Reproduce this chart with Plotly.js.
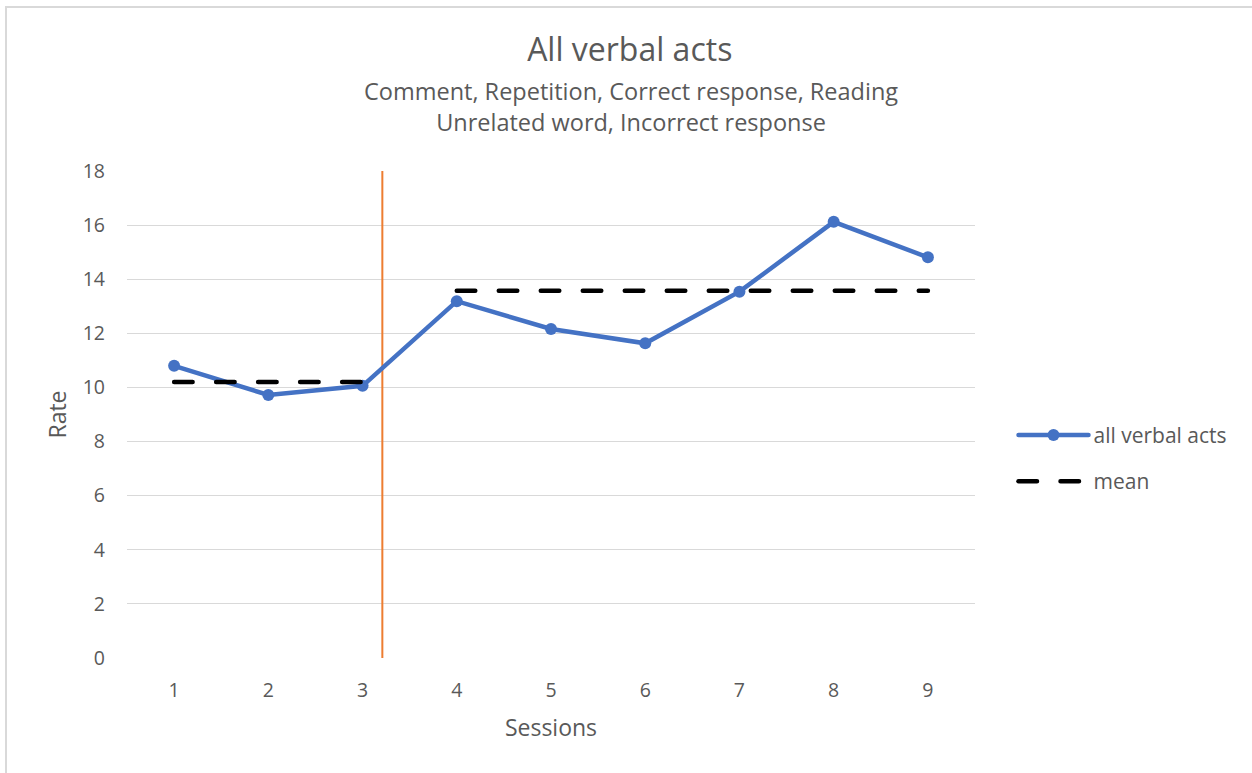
<!DOCTYPE html>
<html>
<head>
<meta charset="utf-8">
<script src="https://cdn.plot.ly/plotly-3.0.1.min.js"></script>
<style>
  html, body { margin: 0; padding: 0; background: #ffffff; }
  #frame {
    position: absolute; left: 0; top: 0; width: 1252px; height: 773px;
  }
  #edge {
    position: absolute; left: 5px; top: 6px; width: 1247px; height: 767px;
    border-left: 2px solid #d9d9d9; border-top: 2px solid #d9d9d9;
    pointer-events: none; z-index: 2;
  }
  #chart { position: absolute; left: 0; top: 0; width: 1252px; height: 773px; }
  .scatterlayer .js-line, .legend .js-line { stroke-linecap: round; }
</style>
</head>
<body>
<div id="frame">
  <div id="chart"></div>
  <div id="edge"></div>
</div>
<script>
// Sessions and observed rate of all verbal acts
const sessions = [1, 2, 3, 4, 5, 6, 7, 8, 9];
const verbalRate = [10.80, 9.72, 10.06, 13.19, 12.16, 11.63, 13.54, 16.12, 14.81];

// Phase means: baseline (sessions 1-3) and intervention (sessions 4-9)
const baselineSessions = [1, 2, 3];
const baselineMean = [10.2, 10.2, 10.2];
const interventionSessions = [4, 5, 6, 7, 8, 9];
const interventionMean = [13.57, 13.57, 13.57, 13.57, 13.57, 13.57];

// Phase change marker between sessions 3 and 4
const phaseChangeX = [3.21, 3.21];
const phaseChangeY = [0, 18];

const yTicks = [0, 2, 4, 6, 8, 10, 12, 14, 16, 18];

// Categories of verbal acts counted, listed under the title
const actTypesLine1 = 'Comment, Repetition, Correct response, Reading';
const actTypesLine2 = 'Unrelated word, Incorrect response';

const fontFamily = 'Open Sans, Lato, sans-serif';
const textColor = '#595959';

const traces = [
  {
    x: phaseChangeX, y: phaseChangeY, mode: 'lines', type: 'scatter',
    line: { color: '#ED7D31', width: 2 },
    showlegend: false, hoverinfo: 'skip'
  },
  {
    x: sessions, y: verbalRate, mode: 'lines+markers', type: 'scatter',
    name: 'all verbal acts',
    line: { color: '#4472C4', width: 4.5 },
    marker: { color: '#4472C4', size: 12 }
  },
  {
    x: baselineSessions, y: baselineMean, mode: 'lines', type: 'scatter',
    name: 'mean', legendgroup: 'mean',
    line: { color: '#000000', width: 4.5, dash: '18.5px,23.5px' }
  },
  {
    x: interventionSessions, y: interventionMean, mode: 'lines', type: 'scatter',
    name: 'mean', legendgroup: 'mean', showlegend: false,
    line: { color: '#000000', width: 4.5, dash: '18.5px,23.5px' }
  }
];

const layout = {
  width: 1252, height: 773,
  paper_bgcolor: '#ffffff', plot_bgcolor: '#ffffff',
  margin: { l: 127, r: 277, t: 171, b: 115 },
  font: { family: fontFamily, color: textColor, size: 19.5 },
  title: {
    text: 'All verbal acts',
    font: { family: fontFamily, size: 32, color: textColor },
    x: 0.503, xanchor: 'center', xref: 'container',
    y: 1 - 50 / 773, yanchor: 'middle', yref: 'container'
  },
  annotations: [
    {
      text: actTypesLine1 + '<br>' + actTypesLine2,
      xref: 'paper', yref: 'paper',
      x: (631 - 127) / 848, xanchor: 'center',
      y: (658 - 106) / 487, yanchor: 'middle',
      showarrow: false, align: 'center',
      font: { family: fontFamily, size: 23.5, color: textColor }
    }
  ],
  xaxis: {
    range: [0.5, 9.5], tickvals: sessions, ticktext: sessions.map(String),
    showgrid: false, zeroline: false, showline: false, ticks: '',
    ticklabelstandoff: 18,
    tickfont: { family: fontFamily, size: 19.5, color: textColor },
    title: { text: 'Sessions', standoff: 18, font: { family: fontFamily, size: 23, color: textColor } },
    fixedrange: true
  },
  yaxis: {
    range: [0, 18], tickvals: yTicks,
    showgrid: true, gridcolor: '#d9d9d9', gridwidth: 1,
    zeroline: false, showline: false, ticks: '',
    ticklabelstandoff: 21,
    tickfont: { family: fontFamily, size: 19.5, color: textColor },
    title: { text: 'Rate', standoff: 9, font: { family: fontFamily, size: 23, color: textColor } },
    fixedrange: true
  },
  legend: {
    x: 1.0454, xanchor: 'left', y: 0.41, yanchor: 'middle',
    font: { family: fontFamily, size: 21, color: textColor },
    itemwidth: 70, tracegroupgap: 16,
    bgcolor: 'rgba(0,0,0,0)'
  },
  showlegend: true
};

Plotly.newPlot('chart', traces, layout, { displayModeBar: false, staticPlot: true });
</script>
</body>
</html>
